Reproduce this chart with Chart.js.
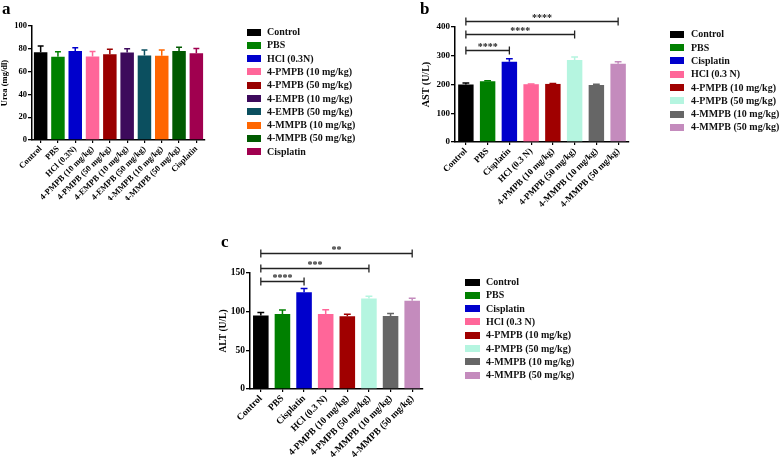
<!DOCTYPE html>
<html>
<head>
<meta charset="utf-8">
<script src="https://cdn.jsdelivr.net/npm/chart.js@4.4.0/dist/chart.umd.min.js"></script>
<style>
  html, body { margin: 0; padding: 0; background: #fff; }
  body { width: 780px; height: 457px; position: relative; overflow: hidden; }
  canvas { position: absolute; }
  #chart-urea { left: 0; top: 0; }
  #chart-ast  { left: 390px; top: 0; }
  #chart-alt  { left: 210px; top: 230px; }
</style>
</head>
<body>
<canvas id="chart-urea" width="390" height="200"></canvas>
<canvas id="chart-ast" width="390" height="215"></canvas>
<canvas id="chart-alt" width="380" height="227"></canvas>
<script>
// a. Urea
const ureaLabels = ['Control', 'PBS', 'HCl (0.3N)', '4-PMPB (10 mg/kg)', '4-PMPB (50 mg/kg)',
  '4-EMPB (10 mg/kg)', '4-EMPB (50 mg/kg)', '4-MMPB (10 mg/kg)', '4-MMPB (50 mg/kg)', 'Cisplatin'];
const ureaMeans = [77, 73, 78, 73.3, 75.3, 76.7, 74.1, 73.9, 78, 76];
const ureaSem   = [5.5, 4.5, 3, 4.3, 4.3, 3.3, 4.8, 5, 3.3, 4.2];
const ureaColors = ['#000000', '#008000', '#0000CC', '#FF6699', '#990000',
  '#3D0A5C', '#0B4F5F', '#FF6600', '#005A00', '#A0004F'];
const ureaMax = 100, ureaStep = 20;

// b. AST
const liverLabels = ['Control', 'PBS', 'Cisplatin', 'HCl (0.3 N)', '4-PMPB (10 mg/kg)',
  '4-PMPB (50 mg/kg)', '4-MMPB (10 mg/kg)', '4-MMPB (50 mg/kg)'];
const liverColors = ['#000000', '#008000', '#0000CC', '#FF6699', '#A00000', '#B5F5E0', '#666666', '#C48BBD'];
const astMeans = [200, 211, 279, 201, 202, 285, 198, 272];
const astSem   = [5, 2, 11, 1, 1.5, 11, 3, 7];
const astMax = 400, astStep = 100;
const astSig = [
  { from: 0, to: 2, level: 319, stars: '****' },
  { from: 0, to: 5, level: 375, stars: '****' },
  { from: 0, to: 7, level: 420, stars: '****' },
];

// c. ALT
const altMeans = [95, 97, 125, 97, 94, 117, 94.5, 114];
const altSem   = [4, 5, 5, 5.5, 2.5, 3, 3, 3.5];
const altMax = 150, altStep = 50;
const altSig = [
  { from: 0, to: 2, level: 140, stars: '****' },
  { from: 0, to: 5, level: 157, stars: '***' },
  { from: 0, to: 7, level: 176, stars: '**' },
];

const SERIF = "'Liberation Serif', 'Times New Roman', serif";
Chart.defaults.font.family = SERIF;
Chart.defaults.font.weight = 'bold';
Chart.defaults.color = '#000';

// upward SEM bars, GraphPad style
function errorBars(errs) {
  return {
    id: 'errorBars',
    afterDatasetsDraw(chart) {
      const ds = chart.data.datasets[0];
      const y = chart.scales.y;
      const ctx = chart.ctx;
      ctx.save();
      ctx.lineWidth = 1.5;
      chart.getDatasetMeta(0).data.forEach((bar, i) => {
        const top = y.getPixelForValue(ds.data[i] + errs[i]);
        const half = bar.width * 0.22;
        ctx.strokeStyle = ds.backgroundColor[i];
        ctx.beginPath();
        ctx.moveTo(bar.x, bar.y);
        ctx.lineTo(bar.x, top);
        ctx.moveTo(bar.x - half, top);
        ctx.lineTo(bar.x + half, top);
        ctx.stroke();
      });
      ctx.restore();
    }
  };
}

// significance brackets
function sigBrackets(items) {
  return {
    id: 'sigBrackets',
    afterDraw(chart) {
      const x = chart.scales.x, y = chart.scales.y, ctx = chart.ctx;
      ctx.save();
      ctx.strokeStyle = '#222';
      ctx.fillStyle = '#222';
      ctx.lineWidth = 1.3;
      ctx.font = `bold 10px ${SERIF}`;
      ctx.textAlign = 'center';
      ctx.textBaseline = 'alphabetic';
      items.forEach(s => {
        const x1 = x.getPixelForValue(s.from);
        const x2 = x.getPixelForValue(s.to);
        const yy = Math.round(y.getPixelForValue(s.level)) + 0.5;
        ctx.beginPath();
        ctx.moveTo(x1, yy); ctx.lineTo(x2, yy);
        ctx.moveTo(x1, yy - 4); ctx.lineTo(x1, yy + 4);
        ctx.moveTo(x2, yy - 4); ctx.lineTo(x2, yy + 4);
        ctx.stroke();
        ctx.fillText(s.stars, (x1 + x2) / 2, yy - 1);
      });
      ctx.restore();
    }
  };
}

// legend column + panel letter
function sideLegend(o) {
  return {
    id: 'sideLegend',
    afterDraw(chart) {
      const ctx = chart.ctx, ds = chart.data.datasets[0];
      ctx.save();
      ctx.font = `bold 17px ${SERIF}`;
      ctx.fillStyle = '#000';
      ctx.textBaseline = 'alphabetic';
      ctx.fillText(o.tag, o.tagX, o.tagY);
      ctx.font = `bold 10px ${SERIF}`;
      ctx.textBaseline = 'middle';
      chart.data.labels.forEach((lab, i) => {
        const cy = o.y + i * 13.3;
        ctx.fillStyle = ds.backgroundColor[i];
        ctx.fillRect(o.x, Math.round(cy - 3.5), o.boxW, 7);
        ctx.fillStyle = '#111';
        ctx.fillText(lab, o.textX, cy + 0.5);
      });
      ctx.restore();
    }
  };
}

function makeBarChart(id, p) {
  const ctx = document.getElementById(id).getContext('2d');
  return new Chart(ctx, {
    type: 'bar',
    data: {
      labels: p.labels,
      datasets: [{
        data: p.means,
        backgroundColor: p.colors,
        borderWidth: 0,
        categoryPercentage: 1,
        barPercentage: p.barPct,
      }]
    },
    options: {
      responsive: false,
      animation: false,
      layout: { padding: p.padding },
      plugins: { legend: { display: false }, tooltip: { enabled: false } },
      scales: {
        x: {
          ticks: { minRotation: 45, maxRotation: 45, autoSkip: false, padding: 1, font: { size: p.tickSize } },
          grid: { offset: false, drawOnChartArea: false, tickLength: 3, color: '#000', lineWidth: 1.2 },
          border: { color: '#000', width: 1.5 },
          afterFit(s) { s.height = p.xHeight; }
        },
        y: {
          min: 0, max: p.max,
          ticks: { stepSize: p.step, padding: 1, font: { size: p.tickSize } },
          grid: { drawOnChartArea: false, tickLength: 4, color: '#000', lineWidth: 1.3 },
          border: { color: '#000', width: 1.5 },
          title: { display: true, text: p.yTitle, padding: 0, font: { size: p.titleSize } },
          afterFit(s) { s.width = p.yWidth; }
        }
      }
    },
    plugins: p.plugins
  });
}

makeBarChart('chart-urea', {
  labels: ureaLabels, means: ureaMeans, colors: ureaColors, barPct: 0.78,
  max: ureaMax, step: ureaStep, yTitle: 'Urea (mg/dl)',
  tickSize: 8.5, titleSize: 8.5,
  padding: { left: 0, top: 26, right: 185, bottom: 0 }, yWidth: 32, xHeight: 60,
  plugins: [errorBars(ureaSem),
    sideLegend({ tag: 'a', tagX: 2, tagY: 14, x: 247, y: 32, boxW: 14, textX: 267 })]
});

makeBarChart('chart-ast', {
  labels: liverLabels, means: astMeans, colors: liverColors, barPct: 0.71,
  max: astMax, step: astStep, yTitle: 'AST (U/L)',
  tickSize: 9, titleSize: 10,
  padding: { left: 30, top: 27, right: 151, bottom: 0 }, yWidth: 35, xHeight: 73,
  plugins: [errorBars(astSem), sigBrackets(astSig),
    sideLegend({ tag: 'b', tagX: 30, tagY: 13.5, x: 280, y: 34.3, boxW: 14, textX: 301 })]
});

makeBarChart('chart-alt', {
  labels: liverLabels, means: altMeans, colors: liverColors, barPct: 0.72,
  max: altMax, step: altStep, yTitle: 'ALT (U/L)',
  tickSize: 9.5, titleSize: 9.5,
  padding: { left: 8, top: 43, right: 167, bottom: 0 }, yWidth: 32, xHeight: 68,
  plugins: [errorBars(altSem), sigBrackets(altSig),
    sideLegend({ tag: 'c', tagX: 11, tagY: 17.3, x: 255, y: 52, boxW: 15, textX: 276 })]
});
</script>
</body>
</html>
